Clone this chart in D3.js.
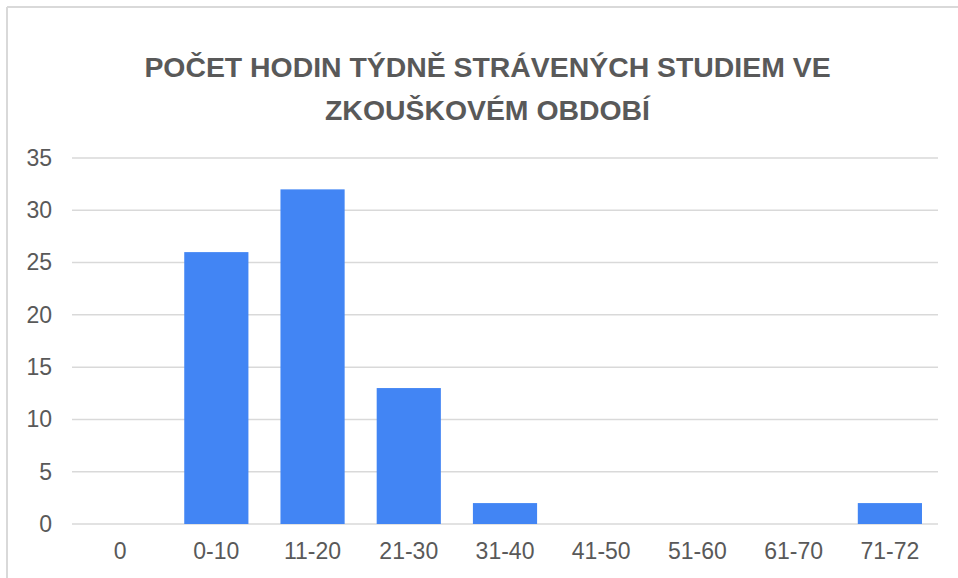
<!DOCTYPE html>
<html><head><meta charset="utf-8">
<script src="https://cdn.jsdelivr.net/npm/d3@7"></script>
<style>body{margin:0;background:#fff}svg{display:block}</style>
</head><body>
<script>
const titleLines = ["POČET HODIN TÝDNĚ STRÁVENÝCH STUDIEM VE", "ZKOUŠKOVÉM OBDOBÍ"];
const categories = ["0", "0-10", "11-20", "21-30", "31-40", "41-50", "51-60", "61-70", "71-72"];
const values = [0, 26, 32, 13, 2, 0, 0, 0, 2];
const yTicks = [0, 5, 10, 15, 20, 25, 30, 35];

(function () {
const W = 958, H = 578;
const svg = d3.select("body").append("svg").attr("width", W).attr("height", H);

// frame (top and left edges)
svg.append("line").attr("x1", 7).attr("x2", W).attr("y1", 7).attr("y2", 7).attr("stroke", "#d9d9d9").attr("stroke-width", 2);
svg.append("line").attr("x1", 7).attr("x2", 7).attr("y1", 7).attr("y2", H).attr("stroke", "#d9d9d9").attr("stroke-width", 2);

const mLeft = 72, mRight = 938, mTop = 158, mBottom = 524;
const x = d3.scaleBand().domain(categories).range([mLeft, mRight]).paddingInner(0.333).paddingOuter(0.1665);
const y = d3.scaleLinear().domain([0, 35]).range([mBottom, mTop]);

// title
svg.append("g").selectAll("text").data(titleLines).join("text")
  .attr("x", 487.5).attr("y", (d, i) => 77 + i * 43)
  .attr("text-anchor", "middle")
  .attr("font-family", "Liberation Sans, Arial, sans-serif")
  .attr("font-weight", "bold").attr("font-size", 28.4)
  .attr("fill", "#595959").text(d => d);

// grid
svg.append("g").selectAll("line").data(yTicks).join("line")
  .attr("x1", mLeft).attr("x2", mRight)
  .attr("y1", d => y(d)).attr("y2", d => y(d))
  .attr("stroke", "#d9d9d9").attr("stroke-width", 1.5);

// y axis labels
const yAxis = d3.axisLeft(y).tickValues(yTicks).tickSize(0).tickPadding(20);
const gy = svg.append("g").attr("transform", `translate(${mLeft},0)`).call(yAxis);
gy.select(".domain").remove();
gy.selectAll("text").attr("font-family", "Liberation Sans, Arial, sans-serif").attr("font-size", 23).attr("fill", "#595959");

// bars
svg.append("g").selectAll("rect").data(categories).join("rect")
  .attr("x", d => x(d)).attr("width", x.bandwidth())
  .attr("y", (d, i) => y(values[i])).attr("height", (d, i) => y(0) - y(values[i]))
  .attr("fill", "#4285f4");

// x axis labels
const xAxis = d3.axisBottom(x).tickSize(0).tickPadding(19);
const gx = svg.append("g").attr("transform", `translate(0,${mBottom})`).call(xAxis);
gx.select(".domain").remove();
gx.selectAll("text").attr("font-family", "Liberation Sans, Arial, sans-serif").attr("font-size", 23).attr("fill", "#595959");
})();
</script>
</body></html>
